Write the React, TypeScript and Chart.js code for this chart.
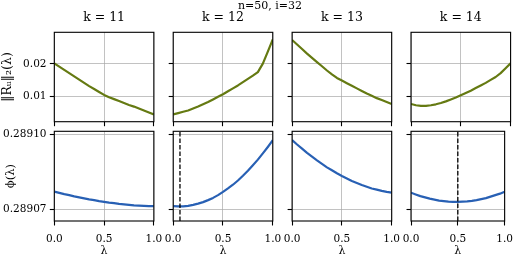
import React, { useEffect, useRef } from "react";
import { Chart, registerables } from "chart.js";

Chart.register(...registerables);

// ---------------- data ----------------
const lambdas = [0, 0.05, 0.1, 0.15, 0.2, 0.25, 0.3, 0.35, 0.4, 0.45, 0.5, 0.55, 0.6, 0.65, 0.7, 0.75, 0.8, 0.85, 0.9, 0.95, 1.0];
const kValues = [11, 12, 13, 14];

const residualK11 = [0.0202, 0.0192, 0.0182, 0.0172, 0.0162, 0.0152, 0.0142, 0.0132, 0.0123, 0.0114, 0.0105, 0.0098, 0.0092, 0.0086, 0.008, 0.0074, 0.0069, 0.0063, 0.0057, 0.0051, 0.0045];
const residualK12 = [0.0045, 0.0049, 0.0053, 0.0057, 0.0063, 0.0069, 0.0076, 0.0083, 0.0091, 0.0099, 0.0107, 0.0116, 0.0125, 0.0134, 0.0144, 0.0154, 0.0164, 0.0175, 0.0201, 0.0238, 0.0276];
const residualK13 = [0.0274, 0.026, 0.0246, 0.0232, 0.0219, 0.0206, 0.0193, 0.018, 0.0168, 0.0157, 0.0149, 0.0141, 0.0133, 0.0125, 0.0117, 0.0109, 0.0102, 0.0095, 0.0089, 0.0083, 0.0077];
const residualK14 = [0.0077, 0.0073, 0.0071, 0.0071, 0.0073, 0.0076, 0.008, 0.0085, 0.0091, 0.0097, 0.0104, 0.0111, 0.0118, 0.0126, 0.0134, 0.0142, 0.0151, 0.016, 0.0172, 0.0187, 0.0202];

const phiK11 = [0.289077, 0.2890765, 0.289076, 0.2890756, 0.2890751, 0.2890747, 0.2890743, 0.2890739, 0.2890736, 0.2890732, 0.2890729, 0.2890726, 0.2890724, 0.2890721, 0.2890719, 0.2890717, 0.2890715, 0.2890714, 0.2890713, 0.2890712, 0.2890712];
const phiK12 = [0.2890712, 0.2890711, 0.2890711, 0.2890713, 0.2890717, 0.2890722, 0.2890728, 0.2890736, 0.2890745, 0.2890756, 0.2890769, 0.2890783, 0.2890798, 0.2890815, 0.2890834, 0.2890854, 0.2890876, 0.2890899, 0.2890924, 0.289095, 0.2890977];
const phiK13 = [0.2890978, 0.289096, 0.2890943, 0.2890926, 0.2890911, 0.2890896, 0.2890882, 0.2890868, 0.2890856, 0.2890844, 0.2890833, 0.2890823, 0.2890813, 0.2890805, 0.2890797, 0.289079, 0.2890783, 0.2890778, 0.2890773, 0.2890769, 0.2890766];
const phiK14 = [0.2890766, 0.2890759, 0.2890752, 0.2890747, 0.2890742, 0.2890738, 0.2890734, 0.2890732, 0.289073, 0.2890729, 0.2890729, 0.289073, 0.2890731, 0.2890733, 0.2890736, 0.289074, 0.2890744, 0.289075, 0.2890756, 0.2890762, 0.289077];

const minimizerLambda = [null, 0.068, null, 0.5];

const xTicks = [0, 0.5, 1.0];
const residualTicks = [0.01, 0.02];
const phiTicks = [0.28907, 0.2891];
const residualRange = [0.00225, 0.02975];
const phiRange = [0.2890652, 0.2891013];

const residualSeries = [residualK11, residualK12, residualK13, residualK14];
const phiSeries = [phiK11, phiK12, phiK13, phiK14];

// ---------------- layout / style ----------------
const W = 520;
const H = 260;
const COL_LEFT = [54.3, 173.2, 292.1, 411.0];
const COL_WIDTH = 99.6;
const TOP_ROW = [32.3, 121.7];
const BOTTOM_ROW = [131.3, 221.0];
const FAMILY = "'DejaVu Serif', serif";
const OLIVE = "#657a12";
const BLUE = "#2860b4";

const framePlugin = {
  id: "frame",
  afterDatasetsDraw(chart: any) {
    const { ctx, chartArea } = chart;
    ctx.save();
    ctx.strokeStyle = "#000";
    ctx.lineWidth = 1.1;
    ctx.strokeRect(chartArea.left, chartArea.top, chartArea.right - chartArea.left, chartArea.bottom - chartArea.top);
    ctx.restore();
  },
};

function buildConfig(row: number, col: number): any {
  const isTop = row === 0;
  const series = isTop ? residualSeries[col] : phiSeries[col];
  const [yMin, yMax] = isTop ? residualRange : phiRange;
  const yTicks = isTop ? residualTicks : phiTicks;
  const left = COL_LEFT[col];
  const right = left + COL_WIDTH;
  const yAxisWidth = col === 0 ? left : 20;
  const xAxisHeight = isTop ? 20 : 39;
  const [, areaBottom] = isTop ? TOP_ROW : BOTTOM_ROW;

  const grid = {
    color: "#a8a8a8",
    lineWidth: 0.7,
    borderDash: [1, 2],
    tickColor: "#000",
    tickWidth: 1.1,
    tickLength: 4.5,
    drawTicks: true,
  };

  const datasets: any[] = [
    {
      data: lambdas.map((x, i) => ({ x, y: series[i] })),
      borderColor: isTop ? OLIVE : BLUE,
      borderWidth: 2.2,
      pointRadius: 0,
      tension: 0,
      borderJoinStyle: "round",
      fill: false,
      order: 1,
    },
  ];
  const m = minimizerLambda[col];
  if (!isTop && m !== null) {
    datasets.push({
      data: [
        { x: m, y: yMin },
        { x: m, y: yMax },
      ],
      borderColor: "#000",
      borderWidth: 1.3,
      borderDash: [4.5, 2],
      pointRadius: 0,
      fill: false,
      order: 0,
    });
  }

  return {
    type: "line",
    data: { datasets },
    plugins: [framePlugin],
    options: {
      animation: false,
      responsive: false,
      events: [],
      layout: {
        padding: {
          left: left - yAxisWidth,
          right: W - right,
          top: isTop ? 0 : BOTTOM_ROW[0],
          bottom: H - areaBottom - xAxisHeight,
        },
      },
      plugins: {
        legend: { display: false },
        tooltip: { enabled: false },
        title: {
          display: isTop,
          text: `k = ${kValues[col]}`,
          fullSize: false,
          color: "#000",
          font: { family: FAMILY, size: 12.5, weight: "normal", lineHeight: 1.2 },
          padding: { top: 10, bottom: 7.3 },
        },
      },
      scales: {
        x: {
          type: "linear",
          min: 0,
          max: 1,
          afterBuildTicks: (s: any) => {
            s.ticks = xTicks.map((v) => ({ value: v }));
          },
          afterFit: (s: any) => {
            s.height = xAxisHeight;
          },
          ticks: {
            display: !isTop,
            autoSkip: false,
            maxRotation: 0,
            color: "#000",
            padding: 7,
            font: { family: FAMILY, size: 10.5 },
            callback: (v: any) => Number(v).toFixed(1),
          },
          grid,
          border: { display: false },
          title: {
            display: !isTop,
            text: "λ",
            color: "#000",
            font: { family: FAMILY, size: 11 },
            padding: { top: 0, bottom: 2.2 },
          },
        },
        y: {
          type: "linear",
          min: yMin,
          max: yMax,
          afterBuildTicks: (s: any) => {
            s.ticks = yTicks.map((v) => ({ value: v }));
          },
          afterFit: (s: any) => {
            s.width = yAxisWidth;
          },
          ticks: {
            display: col === 0,
            color: "#000",
            padding: 3.3,
            font: { family: FAMILY, size: 10.5 },
            callback: (v: any) => Number(v).toFixed(isTop ? 2 : 5),
          },
          grid,
          border: { display: false },
          title: {
            display: col === 0,
            text: isTop ? "‖Rᵤ‖₂(λ)" : "ϕ(λ)",
            color: "#000",
            font: { family: FAMILY, size: isTop ? 12.5 : 11.5 },
            padding: { top: isTop ? 0 : 4.2, bottom: 0 },
          },
        },
      },
    },
  };
}

function Panel({ row, col }: { row: number; col: number }) {
  const ref = useRef<HTMLCanvasElement | null>(null);
  useEffect(() => {
    if (!ref.current) return;
    const chart = new Chart(ref.current, buildConfig(row, col));
    return () => chart.destroy();
  }, [row, col]);
  return (
    <canvas
      ref={ref}
      width={W}
      height={H}
      style={{ position: "absolute", left: 0, top: 0, width: W, height: H }}
    />
  );
}

export default function App() {
  const panels: { row: number; col: number }[] = [];
  for (let r = 0; r < 2; r++) for (let c = 0; c < 4; c++) panels.push({ row: r, col: c });
  return (
    <div style={{ position: "fixed", left: 0, top: 0, width: W, height: H, background: "#fff", overflow: "hidden" }}>
      {panels.map((p) => (
        <Panel key={`${p.row}-${p.col}`} row={p.row} col={p.col} />
      ))}
      <div
        style={{
          position: "absolute",
          left: 200,
          width: 140,
          top: -1,
          textAlign: "center",
          fontFamily: FAMILY,
          fontSize: 11,
          lineHeight: "13px",
          color: "#000",
        }}
      >
        n=50, i=32
      </div>
    </div>
  );
}
